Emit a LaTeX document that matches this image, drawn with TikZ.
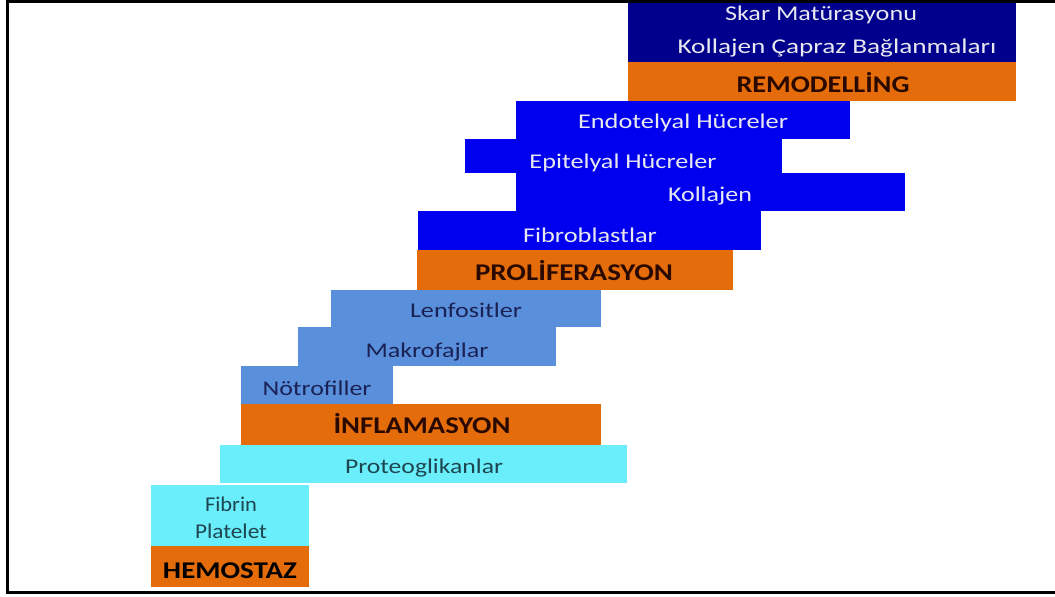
\documentclass[tikz,border=0pt]{standalone}
\usepackage{graphicx}
\usepackage{fontspec}
\setmainfont{Carlito}
\definecolor{orng}{HTML}{E46C0A}
\definecolor{navy}{HTML}{00008C}
\definecolor{brightblue}{HTML}{0000EE}
\definecolor{steel}{HTML}{5A8FDB}
\definecolor{cyanbox}{HTML}{6AEEFB}
\definecolor{whitetxt}{HTML}{E8E8F0}
\definecolor{navytxt}{HTML}{1A2255}
\definecolor{tealtxt}{HTML}{1D4650}
\definecolor{darktxt}{HTML}{2A0A00}
\newcommand{\txtw}[2]{\resizebox{#1pt}{\height}{#2}}
\begin{document}
\begin{tikzpicture}[x=1pt,y=-1pt,
  box/.style={anchor=north west,inner sep=0pt,outer sep=0pt,draw=none},
  lbl/.style={inner sep=0pt,anchor=base,font=\fontsize{21}{24}\selectfont},
  blbl/.style={inner sep=0pt,anchor=base,font=\fontsize{24}{28}\selectfont\bfseries,text=darktxt},
]
\useasboundingbox (0,0) rectangle (1055,597);
\fill[white] (0,0) rectangle (1055,597);
\newcommand{\bx}[6]{\node[box,fill=#2,minimum width=#5-#3,minimum height=#6-#4] (#1) at (#3,#4) {};}
\bx{skar}{navy}{628}{0}{1016}{62}
\bx{remo}{orng}{628}{62}{1016}{101}
\bx{endo}{brightblue}{516}{101}{850}{139}
\bx{epi}{brightblue}{465}{139}{782}{173}
\bx{koll}{brightblue}{516}{173}{905}{211}
\bx{fibro}{brightblue}{418}{211}{761}{250}
\bx{prol}{orng}{417}{250}{733}{290}
\bx{lenf}{steel}{331}{290}{601}{327}
\bx{makro}{steel}{298}{327}{556}{366}
\bx{notro}{steel}{241}{366}{393}{404}
\bx{infl}{orng}{241}{404}{601}{445}
\bx{prot}{cyanbox}{220}{445}{627}{483}
\bx{fibrin}{cyanbox}{151}{485}{309}{546}
\bx{hemo}{orng}{151}{546}{309}{587}
% labels
\node[lbl,text=whitetxt] (tskar) at (821,20) {\txtw{192}{Skar Matürasyonu}};
\node[lbl,text=whitetxt] (tkoll2) at (837,53) {\txtw{319}{Kollajen Çapraz Bağlanmaları}};
\node[blbl] (tremo) at (823,92) {\txtw{173}{REMODELLİNG}};
\node[lbl,text=whitetxt] (tendo) at (683,128) {\txtw{210}{Endotelyal Hücreler}};
\node[lbl,text=whitetxt] (tepi) at (623,168) {\txtw{187}{Epitelyal Hücreler}};
\node[lbl,text=whitetxt] (tkoll) at (710,201) {\txtw{84}{Kollajen}};
\node[lbl,text=whitetxt] (tfibro) at (590,242) {\txtw{134}{Fibroblastlar}};
\node[blbl] (tprol) at (574,280) {\txtw{198}{PROLİFERASYON}};
\node[lbl,text=navytxt] (tlenf) at (466,317) {\txtw{112}{Lenfositler}};
\node[lbl,text=navytxt] (tmakro) at (427,357) {\txtw{123}{Makrofajlar}};
\node[lbl,text=navytxt] (tnotro) at (317,395) {\txtw{109}{Nötrofiller}};
\node[blbl] (tinfl) at (422,433) {\txtw{177}{İNFLAMASYON}};
\node[lbl,text=tealtxt] (tprot) at (424,473) {\txtw{158}{Proteoglikanlar}};
\node[lbl,text=tealtxt] (tfib) at (231,511) {\txtw{52}{Fibrin}};
\node[lbl,text=tealtxt] (tplat) at (231,538) {\txtw{72}{Platelet}};
\node[blbl,text=black] (themo) at (230,578) {\txtw{134}{HEMOSTAZ}};
% frame
\draw[line width=3pt,black] (1058,1.5) -- (7.5,1.5) -- (7.5,592.5) -- (1058,592.5);
\end{tikzpicture}
\end{document}
